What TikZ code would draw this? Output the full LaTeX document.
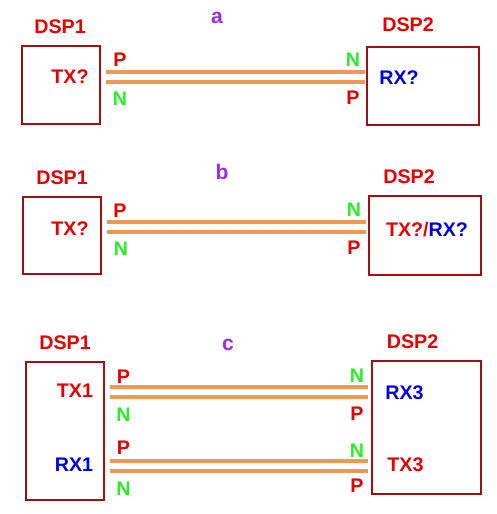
\documentclass[tikz,border=0pt]{standalone}
\usepackage{fontspec}
\setmainfont{Liberation Sans}
\usepackage{tikz}

\definecolor{sigred}{RGB}{228,0,0}
\definecolor{boxred}{RGB}{160,16,16}
\definecolor{siggreen}{RGB}{40,238,40}
\definecolor{sigblue}{RGB}{0,0,220}
\definecolor{tagviolet}{RGB}{150,45,235}
\definecolor{wireorange}{RGB}{238,152,84}

\begin{document}
\begin{tikzpicture}[
    x=0.02cm, y=-0.02cm,
    every node/.style={font=\fontsize{11.2}{13}\selectfont\bfseries, inner sep=0pt, text depth=0pt},
    dsp/.style={rectangle, draw=boxred, line width=1.2pt},
    dspname/.style={text=sigred},
    plbl/.style={text=sigred},
    nlbl/.style={text=siggreen},
    txlbl/.style={text=sigred},
    rxlbl/.style={text=sigblue},
    tag/.style={text=tagviolet, font=\fontsize{12}{14}\selectfont\bfseries},
    wire/.style={draw=wireorange, line width=1.9pt}
]
\useasboundingbox (0,0) rectangle (497,514);

% case a
\node[tag] (ta) at (217,18) {a};
\node[dsp, minimum width=1.56cm, minimum height=1.56cm] (a1) at (61,85) {};
\node[dsp, minimum width=2.24cm, minimum height=1.56cm] (a2) at (423,86) {};
\node[dspname] (a1name) at (60,27) {DSP1};
\node[dspname] (a2name) at (408,25) {DSP2};
\node[txlbl] (a1tx) at (70,77) {TX?};
\node[rxlbl] (a2rx) at (399,78) {RX?};
\coordinate (aP1) at (106,72); \coordinate (aP2) at (365,72);
\coordinate (aN1) at (106,82); \coordinate (aN2) at (365,82);
\draw[wire] (aP1) -- (aP2);
\draw[wire] (aN1) -- (aN2);
\node[plbl] (aP1l) at (120,60) {P};
\node[nlbl] (aN1l) at (120,99) {N};
\node[nlbl] (aN2l) at (353,60) {N};
\node[plbl] (aP2l) at (353,98) {P};

% case b
\node[tag] (tb) at (222,172) {b};
\node[dsp, minimum width=1.56cm, minimum height=1.54cm] (b1) at (62,235.5) {};
\node[dsp, minimum width=2.24cm, minimum height=1.58cm] (b2) at (425,235.5) {};
\node[dspname] (b1name) at (62,178) {DSP1};
\node[dspname] (b2name) at (409,177) {DSP2};
\node[txlbl] (b1tx) at (70,229) {TX?};
\node (b2trx) at (427,229) {\textcolor{sigred}{TX?/}\textcolor{sigblue}{RX?}};
\coordinate (bP1) at (107,222); \coordinate (bP2) at (366,222);
\coordinate (bN1) at (107,232); \coordinate (bN2) at (366,232);
\draw[wire] (bP1) -- (bP2);
\draw[wire] (bN1) -- (bN2);
\node[plbl] (bP1l) at (120,211) {P};
\node[nlbl] (bN1l) at (121,249) {N};
\node[nlbl] (bN2l) at (354,210) {N};
\node[plbl] (bP2l) at (354,248) {P};

% case c
\node[tag] (tc) at (228,345) {c};
\node[dsp, minimum width=1.56cm, minimum height=2.76cm] (c1) at (65,431) {};
\node[dsp, minimum width=2.18cm, minimum height=2.66cm] (c2) at (426.5,427.5) {};
\node[dspname] (c1name) at (65,343) {DSP1};
\node[dspname] (c2name) at (412.5,341.5) {DSP2};
\node[txlbl] (c1tx) at (75,391) {TX1};
\node[rxlbl] (c1rx) at (74,465) {RX1};
\node[rxlbl] (c2rx) at (404.5,392.5) {RX3};
\node[txlbl] (c2tx) at (405.5,464.5) {TX3};
\coordinate (cP1) at (110,387); \coordinate (cP2) at (368,387);
\coordinate (cN1) at (110,397); \coordinate (cN2) at (368,397);
\coordinate (cQ1) at (110,461); \coordinate (cQ2) at (368,461);
\coordinate (cM1) at (110,471); \coordinate (cM2) at (368,471);
\draw[wire] (cP1) -- (cP2);
\draw[wire] (cN1) -- (cN2);
\draw[wire] (cQ1) -- (cQ2);
\draw[wire] (cM1) -- (cM2);
\node[plbl] (cP1l) at (123.5,377) {P};
\node[nlbl] (cN1l) at (123.5,414.5) {N};
\node[plbl] (cQ1l) at (123.5,448) {P};
\node[nlbl] (cM1l) at (123.5,488.5) {N};
\node[nlbl] (cN2l) at (357,375.5) {N};
\node[plbl] (cP2l) at (357,414) {P};
\node[nlbl] (cM2l) at (357,450.5) {N};
\node[plbl] (cQ2l) at (357,486) {P};
\end{tikzpicture}
\end{document}
